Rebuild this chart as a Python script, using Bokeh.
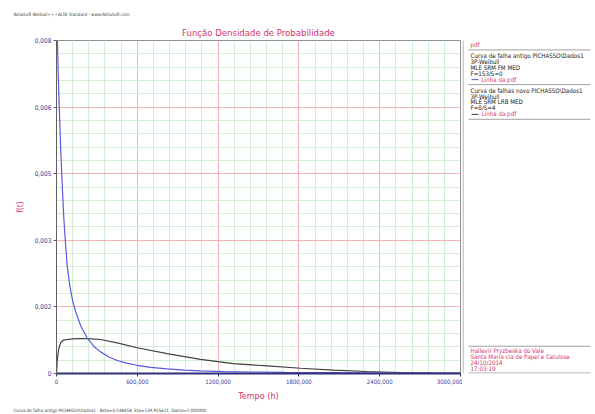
from bokeh.plotting import figure
from bokeh.layouts import row
from bokeh.models import FixedTicker, Range1d, Title
from bokeh.core.properties import value
from bokeh.embed import file_html
from bokeh.resources import INLINE

# ---- data ----
t_blue = [7, 12, 20, 30, 39, 54, 67, 79, 100, 120, 141, 180, 228, 280, 327, 390, 451, 520,
          599, 700, 822, 950, 1069, 1250, 1441, 1700, 2000, 2500, 3000]
f_blue = [0.0077, 0.0070, 0.0062, 0.0053, 0.0046, 0.0036, 0.0030, 0.0025, 0.0020, 0.00168,
          0.00144, 0.00110, 0.00082, 0.00062, 0.00050, 0.00038, 0.00030, 0.00024, 0.00019,
          0.00014, 0.000105, 0.00008, 0.00006, 0.000045, 0.000035, 0.000026, 0.00002,
          0.000012, 0.000008]

t_black = [0, 5, 15, 30, 50, 79, 120, 154, 203, 260, 327, 451, 599, 822, 1069, 1314, 1565,
           1812, 2057, 2307, 2555, 2800, 3000]
f_black = [0, 0.00029, 0.00055, 0.00071, 0.00077, 0.000786, 0.000800, 0.000805, 0.000809,
           0.000800, 0.000786, 0.00071, 0.000596, 0.000458, 0.000328, 0.000229, 0.000176,
           0.000121, 0.000076, 0.000046, 0.000023, 0.00001, 0.000004]

x_ticks = [0, 600, 1200, 1800, 2400, 3000]
x_tick_labels = ["0", "600,000", "1200,000", "1800,000", "2400,000", "3000,000"]
y_ticks = [0, 0.00154, 0.00308, 0.00462, 0.00616, 0.0077]
y_tick_labels = ["0", "0,002", "0,003", "0,005", "0,006", "0,008"]

title_text = "Função Densidade de Probabilidade"
header_text = "ReliaSoft Weibull++ / ALTA Standard - www.ReliaSoft.com"
status_text = "Curva de falha antigo PICHASSO\\Dados1 : Beta=0,548458, Eta=139,915621, Gama=2,000000"
legend_head = "pdf"
legend_block1 = ["Curva de falha antigo PICHASSO\\Dados1", "3P-Weibull", "MLE SRM FM MED", "F=153/S=0"]
legend_block2 = ["Curva de falhas novo PICHASSO\\Dados1", "3P-Weibull", "MLE SRM LRB MED", "F=8/S=4"]
line_label = "Linha da pdf"
info_lines = ["Hallevir Pryzbeska do Vale", "Santa Maria cia de Papel e Celulose", "24/10/2014", "17:03:19"]

CRIMSON = "#d8336c"
NAVY = "#3c3c9c"
BLUE = "#5858e0"
BLACK = "#404040"
GRAYLINE = "#a0a0a0"
FONT = "DejaVu Sans Condensed"

W1, W2, H = 462, 133, 414
FL, FR, FT, FB = 56, 460, 40, 376   # frame edges in page px

p = figure(width=W1, height=H, output_backend="svg", toolbar_location=None,
           x_range=Range1d(0, 3000), y_range=Range1d(0, y_ticks[-1]),
           min_border_left=FL, min_border_right=W1 - FR,
           min_border_top=FT, min_border_bottom=H - FB,
           background_fill_color="white", border_fill_color="white")
p.outline_line_color = "#909090"

# outermost title: program header
p.title.text = header_text
p.title.align = "left"
p.title.offset = 13 - FL
p.title.text_color = "#404040"
p.title.text_font = FONT
p.title.text_font_style = "normal"
p.title.text_font_size = "4.5px"
p.title.standoff = 9

# chart title (closer to the frame)
p.add_layout(Title(text=title_text, align="center", standoff=6,
                   text_font=FONT, text_font_size="9.5px", text_font_style="normal",
                   text_color=CRIMSON), "above")
p.add_layout(Title(text=status_text, align="left", offset=13 - FL, standoff=4,
                   text_font=FONT, text_font_size="4.5px", text_font_style="normal",
                   text_color="#404040"), "below")

x_minor = [x_ticks[0] + 120 * i for i in range(26) if i % 5]
y_step = y_ticks[1] / 5
y_minor = [y_step * i for i in range(26) if i % 5]
p.xaxis.ticker = FixedTicker(ticks=x_ticks, minor_ticks=x_minor)
p.yaxis.ticker = FixedTicker(ticks=y_ticks, minor_ticks=y_minor)
p.xaxis.major_label_overrides = {v: s for v, s in zip(x_ticks, x_tick_labels)}
p.yaxis.major_label_overrides = {v: s for v, s in zip(y_ticks, y_tick_labels)}

for ax in (p.xaxis[0], p.yaxis[0]):
    ax.major_label_text_font = FONT
    ax.major_label_text_color = NAVY
    ax.axis_label_text_font = FONT
    ax.axis_label_text_font_style = "normal"
    ax.axis_label_text_color = CRIMSON
    ax.minor_tick_line_color = None
    ax.major_tick_in = 0
    ax.major_tick_out = 3
    ax.major_label_standoff = 1
p.xaxis.major_label_text_font_size = "6px"
p.yaxis.major_label_text_font_size = "6.5px"
p.xaxis.axis_label = "Tempo (h)"
p.xaxis.axis_label_text_font_size = "9px"
p.xaxis.axis_label_standoff = 4
p.xaxis.axis_line_color = "#303078"
p.xaxis.axis_line_width = 2
p.xaxis.major_tick_line_color = "#303078"
p.yaxis.axis_label = "f(t)"
p.yaxis.axis_label_text_font_size = "8px"
p.yaxis.axis_label_standoff = 7
p.yaxis.axis_line_color = "#606060"
p.yaxis.major_tick_line_color = "#606060"

for g in (p.xgrid[0], p.ygrid[0]):
    g.grid_line_color = "#f2b4b4"
    g.grid_line_width = 1
    g.minor_grid_line_color = "#d4eed4"
    g.minor_grid_line_width = 1

p.line(t_black, f_black, line_color=BLACK, line_width=1.2)
p.line(t_blue, f_blue, line_color=BLUE, line_width=1.2)

# ---- right-hand legend / info panel ----
# its frame is aligned with the main frame (page y 40..376), so ranges map page pixels
q = figure(width=W2, height=H, output_backend="svg", toolbar_location=None,
           x_range=Range1d(W1, W1 + W2), y_range=Range1d(FB, FT),
           min_border=0, min_border_left=0, min_border_right=0,
           min_border_top=FT, min_border_bottom=H - FB,
           background_fill_color="white", border_fill_color="white")
q.axis.visible = False
q.grid.visible = False
q.outline_line_color = None

q.segment(x0=[462.5, 468, 468, 468, 468, 468],
          y0=[40, 49.5, 84.5, 119.5, 348.5, 375.5],
          x1=[462.5, 590, 590, 590, 590, 590],
          y1=[376, 49.5, 84.5, 119.5, 348.5, 375.5],
          line_color=GRAYLINE, line_width=1)

q.segment(x0=[471], y0=[79.5], x1=[478], y1=[79.5], line_color=BLUE, line_width=1)
q.segment(x0=[471], y0=[114.5], x1=[478], y1=[114.5], line_color=BLACK, line_width=1)

black_texts = legend_block1 + legend_block2
black_y = [55, 61, 67, 73, 90, 96, 102, 108]
q.text(x=[470] * len(black_texts), y=black_y, text=black_texts,
       text_font=value(FONT), text_font_size=value("6.2px"), text_color="#202020",
       text_baseline="middle", text_align="left")

red_texts = [legend_head, line_label, line_label] + info_lines
red_x = [470, 481, 481, 470, 470, 470, 470]
red_y = [44, 79, 114, 353, 359, 365, 371]
q.text(x=red_x, y=red_y, text=red_texts,
       text_font=value(FONT), text_font_size=value("6.2px"), text_color=CRIMSON,
       text_baseline="middle", text_align="left")

layout = row(p, q)
open("out.html", "w").write(file_html(layout, INLINE))
